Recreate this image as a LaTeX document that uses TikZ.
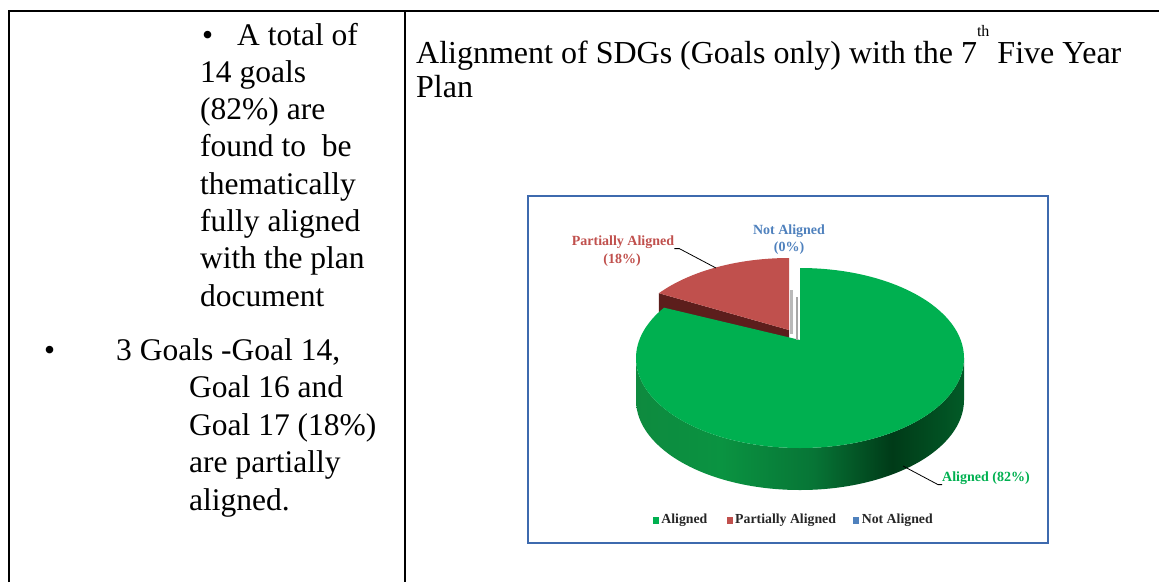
\documentclass[tikz,border=0pt]{standalone}
\usepackage{fontspec}
\setmainfont{Liberation Serif}
\usetikzlibrary{positioning,calc}

\definecolor{pieGreen}{HTML}{00B050}
\definecolor{pieRed}{HTML}{C0504D}
\definecolor{pieRedSide}{HTML}{5C1E1C}
\definecolor{pieBlue}{HTML}{4F81BD}
\definecolor{frameBlue}{HTML}{3E6AAE}
\definecolor{gsA}{HTML}{0E8A3F}
\definecolor{gsB}{HTML}{0A9341}
\definecolor{gsC}{HTML}{077536}
\definecolor{gsD}{HTML}{003B18}
\definecolor{gsE}{HTML}{025A27}
\pgfdeclarehorizontalshading{greenside}{100bp}{color(0bp)=(gsA); color(25bp)=(gsA); color(38bp)=(gsB); color(52bp)=(gsC); color(64bp)=(gsD); color(75bp)=(gsE); color(100bp)=(gsE)}

\begin{document}
\begin{tikzpicture}[x=1pt, y=-1pt,
    rule/.style={line width=2.4pt, black},
    bodytext/.style={anchor=base west, inner sep=0pt, font=\fontsize{31.5}{37}\selectfont},
    titletext/.style={anchor=base west, inner sep=0pt, font=\fontsize{32}{34}\selectfont},
    chartlabel/.style={inner sep=0pt, font=\fontsize{14}{16}\selectfont\bfseries},
    legsq/.style={minimum width=6pt, minimum height=7pt, inner sep=0pt},
    legtext/.style={inner sep=0pt, font=\fontsize{13.8}{16}\selectfont\bfseries, text=black!85}
]
    \useasboundingbox (0,0) rectangle (1159,582);

    % table rules
    \draw[rule] (9,582) -- (9,11) -- (1159,11);
    \draw[rule] (405,11) -- (405,582);

    % left column
    \node[bodytext] (bulA) at (202,45) {•};
    \node[bodytext] (pa0) at (237,45) {A total of};
    \foreach \ln [count=\i] in {14 goals, {(82\%) are}, found to~ be, thematically, fully aligned, with the plan, document}
        \node[bodytext] (pa\i) at (200,{45+37.3*\i}) {\ln};
    \node[bodytext] (bulB) at (44,360) {•};
    \node[bodytext] (pb0) at (116,360) {3 Goals -Goal 14,};
    \foreach \ln [count=\i] in {Goal 16 and, {Goal 17 (18\%)}, are partially, aligned.}
        \node[bodytext] (pb\i) at (189,{360+37.5*\i}) {\ln};

    % right column title
    \node[titletext] (title1) at (416,63) {Alignment of SDGs (Goals only) with the 7\raisebox{27pt}{\fontsize{16}{16}\selectfont th} Five Year};
    \node[titletext] (title2) at (416,97) {Plan};

    % chart frame
    \draw[frameBlue, line width=1.2pt] (528,196) rectangle (1048,543);

    % pie
    \coordinate (gv) at (800,340);
    \coordinate (ge) at (800,358);
    \coordinate (rv) at (789,330);
    \coordinate (re) at (789,348);
    \fill[pieRedSide] (rv) -- ($(re)+(-142.5:164 and 90)$) -- ++(0,44) -- ($(rv)+(0,44)$) -- cycle;
    \fill[pieRed] (rv) -- ($(re)+(-142.5:164 and 90)$) arc[start angle=-142.5, end angle=-90, x radius=164, y radius=90] -- cycle;
    \shade[shading=greenside] ($(ge)+(0:164 and 90)$) arc[start angle=0, end angle=180, x radius=164, y radius=90]
        -- ++(0,42) arc[start angle=180, end angle=0, x radius=164, y radius=90] -- cycle;
    \fill[pieGreen] (gv) -- ($(ge)+(-90:164 and 90)$) arc[start angle=-90, end angle=214, x radius=164, y radius=90] -- cycle;
    \fill[gray!55] (790,290) rectangle (793,334);
    \fill[gray!70] (796,297) rectangle (798,340);

    % data labels
    \node[chartlabel, text=pieRed] (plab1) at (623,242) {Partially Aligned};
    \node[chartlabel, text=pieRed] (plab2) at (622,260) {(18\%)};
    \node[chartlabel, text=pieBlue] (nlab1) at (789,231) {Not Aligned};
    \node[chartlabel, text=pieBlue] (nlab2) at (789,248) {(0\%)};
    \node[chartlabel, text=pieGreen, anchor=west] (alab) at (942,478) {Aligned (82\%)};
    \coordinate (pend) at (716,268);
    \coordinate (aend) at (903,466);
    \draw[line width=0.8pt] (plab1.south east) -- ++(5,0) -- (pend);
    \draw[line width=0.8pt] (aend) -- ([xshift=-4pt]alab.south west) -- (alab.south west);

    % legend
    \node[legsq, fill=pieGreen] (lsq1) at (656,520) {};
    \node[legtext, right=2pt of lsq1] (ltx1) {Aligned};
    \node[legsq, fill=pieRed, right=19pt of ltx1] (lsq2) {};
    \node[legtext, right=2pt of lsq2] (ltx2) {Partially Aligned};
    \node[legsq, fill=pieBlue, right=17pt of ltx2] (lsq3) {};
    \node[legtext, right=2pt of lsq3] (ltx3) {Not Aligned};
\end{tikzpicture}
\end{document}
